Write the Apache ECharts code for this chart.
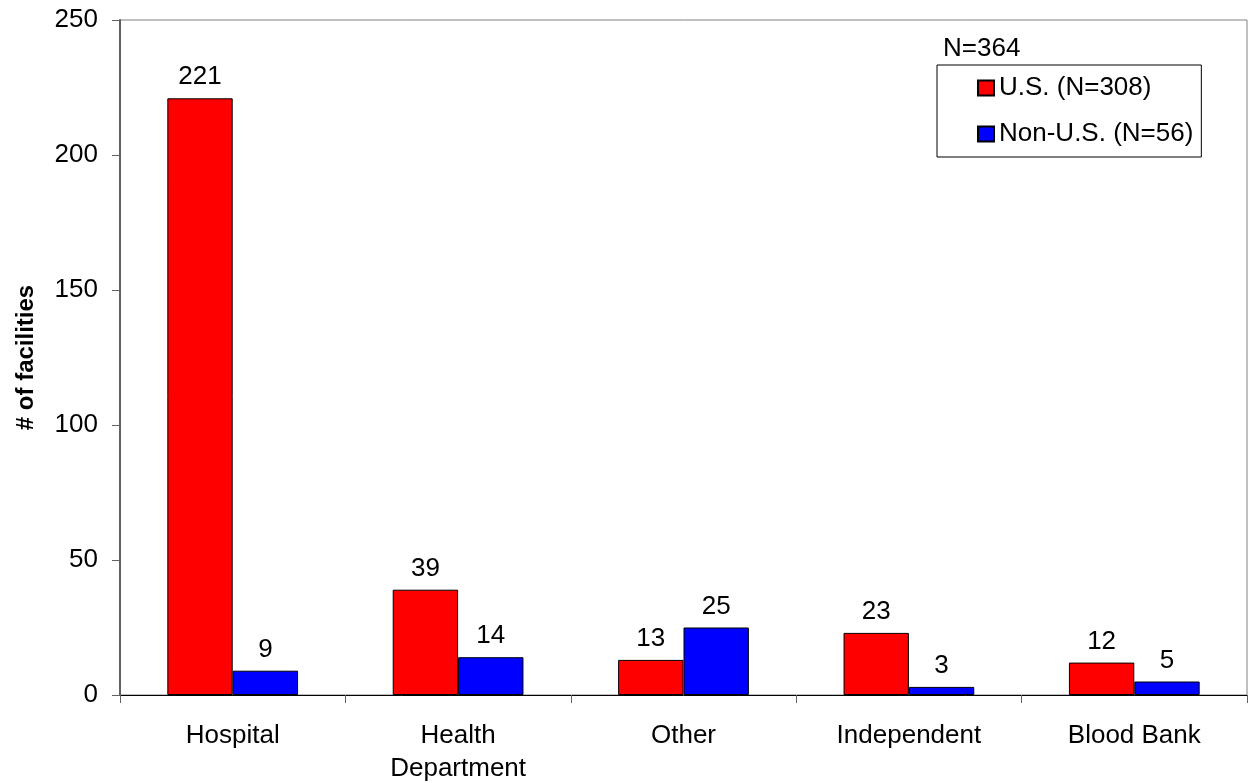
<!DOCTYPE html>
<html>
<head>
<meta charset="utf-8">
<script src="https://cdn.jsdelivr.net/npm/echarts@6/dist/echarts.min.js"></script>
<style>
html,body{margin:0;padding:0;background:#fff;}
#chart{width:1253px;height:783px;}
</style>
</head>
<body>
<div id="chart"></div>
<script>
const categories = ['Hospital', 'Health\nDepartment', 'Other', 'Independent', 'Blood Bank'];
const usValues = [221, 39, 13, 23, 12];
const nonUsValues = [9, 14, 25, 3, 5];
const seriesNames = ['U.S. (N=308)', 'Non-U.S. (N=56)'];
const totalLabel = 'N=364';
const yAxisTitle = '# of facilities';

const FONT = '"Liberation Sans", Arial, sans-serif';
const FS = 26;

const chart = echarts.init(document.getElementById('chart'), null, {renderer: 'canvas'});
const labelStyle = {
  show: true, position: 'top', distance: 8,
  color: '#000', fontFamily: FONT, fontSize: FS
};
chart.setOption({
  animation: false,
  backgroundColor: '#fff',
  grid: {
    left: 120, right: 6, top: 20, bottom: 88,
    show: true, borderColor: '#808080', borderWidth: 1,
    containLabel: false,
    outerBoundsMode: 'none'
  },
  legend: {
    orient: 'vertical',
    left: 937, top: 65,
    padding: [10, 8, 10, 40],
    itemGap: 20,
    itemWidth: 16, itemHeight: 15,
    borderColor: '#000', borderWidth: 1,
    backgroundColor: '#fff',
    textStyle: {fontFamily: FONT, fontSize: FS, color: '#000'},
    data: seriesNames.map(n => ({name: n, icon: 'rect'}))
  },
  graphic: [{
    type: 'text', left: 943, top: 36,
    style: {text: totalLabel, font: FS + 'px ' + FONT, fill: '#000'}
  }],
  xAxis: {
    type: 'category',
    data: categories,
    axisLine: {lineStyle: {color: '#000', width: 1}},
    axisTick: {show: true, length: 8, lineStyle: {color: '#606060'}},
    axisLabel: {
      margin: 24, color: '#000', fontFamily: FONT, fontSize: FS,
      lineHeight: 33, interval: 0
    }
  },
  yAxis: {
    type: 'value',
    min: 0, max: 250, interval: 50,
    name: yAxisTitle,
    nameLocation: 'middle',
    nameGap: 82,
    nameTextStyle: {fontFamily: FONT, fontSize: 24, fontWeight: 'bold', color: '#000'},
    axisLine: {show: true, lineStyle: {color: '#606060', width: 2}},
    axisTick: {show: true, length: 8, lineStyle: {color: '#606060'}},
    splitLine: {show: false},
    axisLabel: {margin: 22, color: '#000', fontFamily: FONT, fontSize: FS}
  },
  series: [
    {
      name: seriesNames[0], type: 'bar', data: usValues,
      barGap: '0%', barCategoryGap: '42%',
      itemStyle: {color: '#ff0000', borderColor: '#000', borderWidth: 1},
      label: labelStyle
    },
    {
      name: seriesNames[1], type: 'bar', data: nonUsValues,
      barGap: '0%', barCategoryGap: '42%',
      itemStyle: {color: '#0000ff', borderColor: '#000', borderWidth: 1},
      label: labelStyle
    }
  ]
});
</script>
</body>
</html>
